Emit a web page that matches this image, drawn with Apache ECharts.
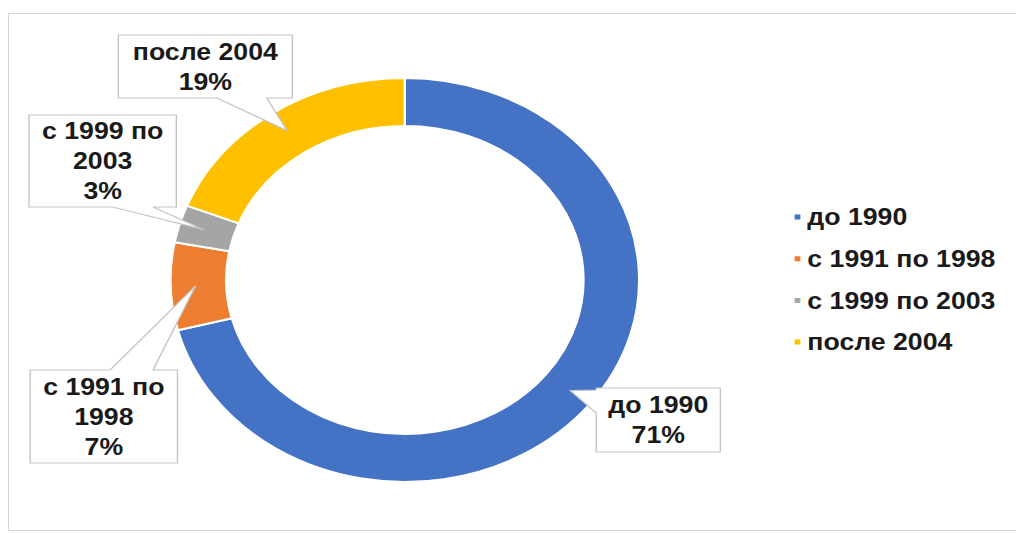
<!DOCTYPE html>
<html>
<head>
<meta charset="utf-8">
<script src="https://cdn.jsdelivr.net/npm/echarts@6/dist/echarts.min.js"></script>
<style>
  html, body { margin: 0; padding: 0; width: 1016px; height: 534px; overflow: hidden; background: #fff; }
  #frame { position: absolute; left: 8px; top: 13px; width: 1300px; height: 518px; border: 1px solid #d4d4d4; box-sizing: border-box; }
  /* the whole drawing is widened a little, so the ring comes out as an ellipse */
  #chart { position: absolute; left: 0; top: 0; width: 876px; height: 534px; transform: scaleX(1.16); transform-origin: 0 0; }
</style>
</head>
<body>
<div id="frame"></div>
<div id="chart"></div>
<script>
const categories = ['до 1990', 'с 1991 по 1998', 'с 1999 по 2003', 'после 2004'];
const shares = [71, 7, 3, 19];
const colors = ['#4472C4', '#ED7D31', '#A5A5A5', '#FFC000'];

// Callout boxes in chart pixels (before the stretch): [x, y, w, h],
// the box edge the pointer leaves from and the two points of its base on that edge.
const callouts = [
  { box: [514, 388, 107, 64], side: 'left',   base: [390, 413] },
  { box: [26, 370, 127, 93],  side: 'top',    base: [95, 132] },
  { box: [25, 115, 127, 92],  side: 'bottom', base: [97, 132] },
  { box: [102, 35, 150, 63],  side: 'bottom', base: [187, 230] }
];

const FONT = 'bold 23px "Liberation Sans", Arial, sans-serif';

// greedy word wrap measured with the same font the labels use
const measureCtx = document.createElement('canvas').getContext('2d');
measureCtx.font = FONT;
function wrapWords(text, maxWidth) {
  const words = text.split(' ');
  const lines = [];
  let line = '';
  words.forEach(w => {
    const probe = line ? line + ' ' + w : w;
    if (line && measureCtx.measureText(probe).width > maxWidth) {
      lines.push(line);
      line = w;
    } else {
      line = probe;
    }
  });
  if (line) lines.push(line);
  return lines.join('\n');
}

const chart = echarts.init(document.getElementById('chart'), null, { renderer: 'svg' });

chart.setOption({
  animation: false,
  color: colors,
  legend: {
    orient: 'vertical',
    left: 678,
    top: 198,
    icon: 'rect',
    itemWidth: 7,
    itemHeight: 7,
    itemGap: 13.7,
    selectedMode: false,
    data: categories,
    textStyle: {
      fontFamily: '"Liberation Sans", Arial, sans-serif',
      fontWeight: 'bold',
      fontSize: 23,
      lineHeight: 28,
      color: '#1a1a1a'
    }
  },
  series: [{
    type: 'pie',
    center: [349, 280],
    radius: [154, 202],
    startAngle: 90,
    clockwise: true,
    silent: true,
    label: { show: false },
    labelLine: { show: false },
    itemStyle: { borderColor: '#ffffff', borderWidth: 2 },
    emphasis: { disabled: true },
    data: categories.map((name, i) => ({ name, value: shares[i] }))
  }]
});

function calloutPoints(c, tip) {
  const [x, y, w, h] = c.box;
  const x2 = x + w, y2 = y + h;
  const [a, b] = c.base;
  if (c.side === 'top') return [[x, y], [a, y], tip, [b, y], [x2, y], [x2, y2], [x, y2]];
  if (c.side === 'bottom') return [[x, y], [x2, y], [x2, y2], [b, y2], tip, [a, y2], [x, y2]];
  return [[x, y], [x2, y], [x2, y2], [x, y2], [x, b], tip, [x, a]];
}

// pointer tips sit in the middle of each ring segment, taken from the pie's own layout
const data = chart.getModel().getSeriesByIndex(0).getData();
const graphics = [];
callouts.forEach((c, i) => {
  const lay = data.getItemLayout(i);
  const mid = (lay.startAngle + lay.endAngle) / 2;
  const rr = lay.r0 + (lay.r - lay.r0) * 0.55;
  const tip = [lay.cx + rr * Math.cos(mid), lay.cy + rr * Math.sin(mid)];
  graphics.push({
    type: 'polygon',
    z: 10,
    silent: true,
    shape: { points: calloutPoints(c, tip) },
    style: { fill: '#ffffff', stroke: '#c4c4c4', lineWidth: 1.2 }
  });
  const [x, y, w, h] = c.box;
  graphics.push({
    type: 'text',
    z: 11,
    silent: true,
    x: x + w / 2,
    y: y + h / 2,
    style: {
      text: wrapWords(categories[i], w - 6) + '\n' + shares[i] + '%',
      font: FONT,
      lineHeight: 30,
      fill: '#1a1a1a',
      align: 'center',
      verticalAlign: 'middle'
    }
  });
});
chart.setOption({ graphic: graphics });
</script>
</body>
</html>
